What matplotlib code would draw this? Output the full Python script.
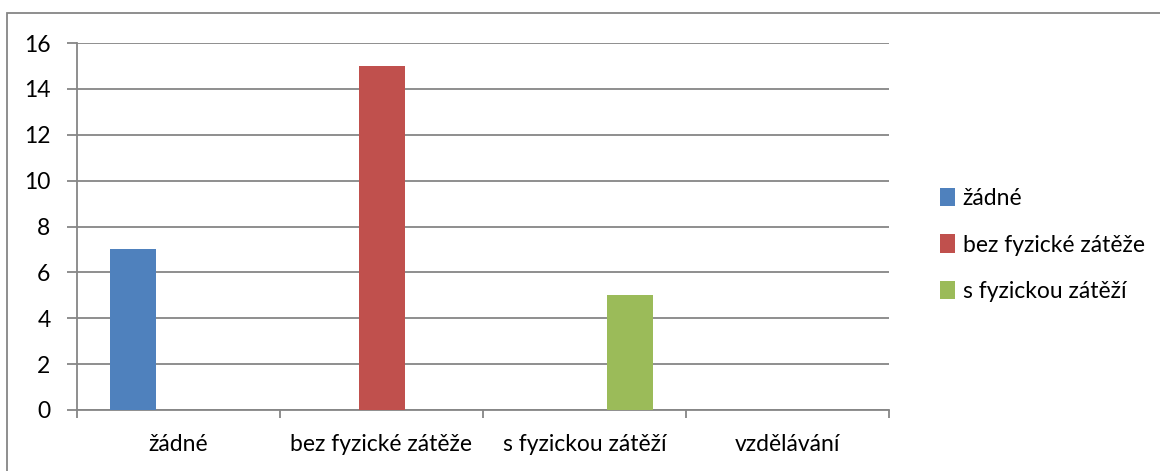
import numpy as np
import matplotlib.pyplot as plt
from matplotlib.patches import Rectangle, Patch

plt.rcParams['font.family'] = ['Lato', 'DejaVu Sans']

categories = ['žádné', 'bez fyzické zátěže', 's fyzickou zátěží', 'vzdělávání']
series_names = ['žádné', 'bez fyzické zátěže', 's fyzickou zátěží']
series_values = [
    [7, 0, 0, 0],
    [0, 15, 0, 0],
    [0, 0, 5, 0],
]
colors = ['#4F81BD', '#C0504D', '#9BBB59']
yticks = [0, 2, 4, 6, 8, 10, 12, 14, 16]

W, H = 1160, 471
fig = plt.figure(figsize=(W / 100, H / 100), dpi=100)

# outer chart border
fig.patches.append(Rectangle((7 / W, -0.1), 1.2, (H - 13) / H + 0.1,
                             transform=fig.transFigure, fill=False,
                             edgecolor='#868686', linewidth=1.3))

ax = fig.add_axes([77 / W, (H - 410) / H, (889 - 77) / W, (410 - 43) / H])

x = np.arange(len(categories))
bw = 46 / 203
for i, (vals, c) in enumerate(zip(series_values, colors)):
    v = np.array(vals, dtype=float)
    mask = v > 0
    ax.bar(x[mask] + (i - 1) * bw, v[mask], width=bw, color=c, zorder=3)

ax.set_xlim(-0.5, len(categories) - 0.5)
ax.set_ylim(0, 16)
ax.set_yticks(yticks)
ax.set_yticklabels([str(t) for t in yticks])
ax.set_xticks(x)
ax.set_xticklabels(categories)
ax.set_xticks(np.arange(len(categories) + 1) - 0.5, minor=True)

ax.grid(axis='y', color='#868686', linewidth=1.3, zorder=0)
for s in ['top', 'right']:
    ax.spines[s].set_visible(False)
for s in ['left', 'bottom']:
    ax.spines[s].set_color('#868686')
    ax.spines[s].set_linewidth(1.3)

fs = 16.5
ax.tick_params(axis='y', length=7, width=1.3, color='#868686', pad=12,
               labelsize=fs, labelcolor='black')
ax.tick_params(axis='x', which='major', length=0, pad=17, labelsize=fs)
ax.tick_params(axis='x', which='minor', length=6, width=1.3, color='#868686')

handles = [Patch(facecolor=c) for c in colors]
fig.legend(handles, series_names, loc='center left',
           bbox_to_anchor=(929 / W, (H - 245) / H), frameon=False,
           fontsize=fs, handlelength=0.62, handleheight=0.85,
           handletextpad=0.35, labelspacing=1.1, borderpad=0)

fig.savefig('out.png', dpi=100)
